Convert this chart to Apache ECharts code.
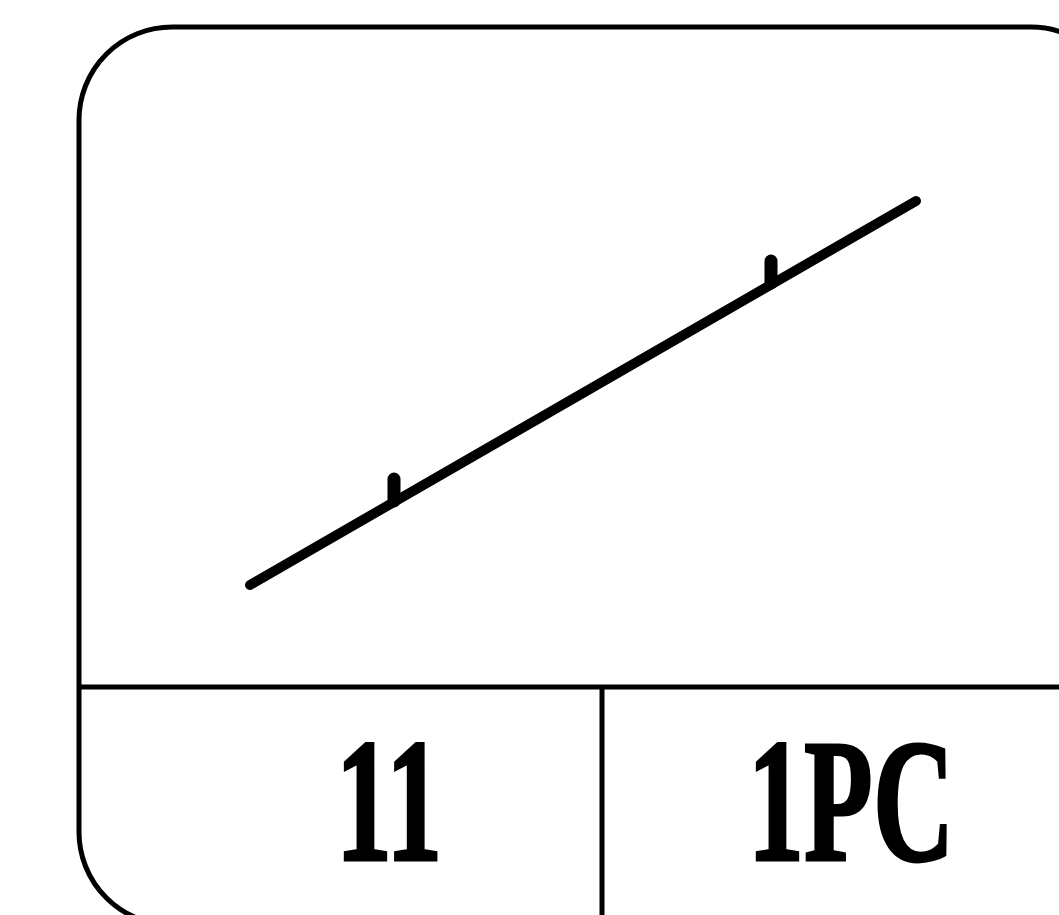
<!DOCTYPE html>
<html>
<head>
<meta charset="utf-8">
<script src="https://cdn.jsdelivr.net/npm/echarts@6/dist/echarts.min.js"></script>
<style>
  html, body { margin: 0; padding: 0; background: #fff; }
  #main { width: 1059px; height: 915px; }
</style>
</head>
<body>
<div id="main"></div>
<script>
// frame: left, top, right, bottom, corner radius (drawing units)
const frameBox = [79, 27, 1124, 925]
const frameRadius = 93
// divider row and column
const dividerY = [687]
const dividerX = [602]
// slanted stroke end points
const strokePoints = [[250, 585], [916, 201]]
// small ticks on the stroke: [x, base y, top y]
const tickMarks = [[394, 501, 479], [771, 283, 261]]
// cell texts and their centres
const cellLabels = ['11', '1PC']
const cellCenters = [[389, 815], [851, 815]]

const chart = echarts.init(document.getElementById('main'))

const option = {
  animation: false,
  backgroundColor: '#fff',
  grid: { left: 0, top: 0, right: 0, bottom: 0 },
  xAxis: { type: 'value', min: 0, max: 1059, show: false },
  yAxis: { type: 'value', min: 0, max: 915, inverse: true, show: false },
  series: [
    {
      // outer frame and dividers
      type: 'custom',
      clip: true,
      data: [[0]],
      renderItem (params, api) {
        const a = api.coord([frameBox[0], frameBox[1]])
        const b = api.coord([frameBox[2], frameBox[3]])
        const lineStyle = { stroke: '#000', lineWidth: 5, fill: null }
        const children = [{
          type: 'rect',
          shape: { x: a[0], y: a[1], width: b[0] - a[0], height: b[1] - a[1], r: frameRadius },
          style: lineStyle
        }]
        dividerY.forEach(y => {
          const p = api.coord([frameBox[0], y])
          const q = api.coord([frameBox[2], y])
          children.push({ type: 'line', shape: { x1: p[0], y1: p[1], x2: q[0], y2: q[1] }, style: lineStyle })
        })
        dividerX.forEach(x => {
          const p = api.coord([x, dividerY[0]])
          const q = api.coord([x, frameBox[3]])
          children.push({ type: 'line', shape: { x1: p[0], y1: p[1], x2: q[0], y2: q[1] }, style: lineStyle })
        })
        return { type: 'group', children }
      }
    },
    {
      type: 'line',
      data: strokePoints,
      symbol: 'none',
      lineStyle: { color: '#000', width: 10, cap: 'round' }
    },
    {
      // short ticks standing on the stroke
      type: 'custom',
      data: tickMarks,
      renderItem (params, api) {
        const p = api.coord([api.value(0), api.value(1)])
        const q = api.coord([api.value(0), api.value(2)])
        return {
          type: 'line',
          shape: { x1: p[0], y1: p[1], x2: q[0], y2: q[1] },
          style: { stroke: '#000', lineWidth: 13, lineCap: 'round' }
        }
      }
    },
    {
      // cell texts
      type: 'custom',
      data: cellCenters.map((c, i) => [c[0], c[1], i]),
      renderItem (params, api) {
        const p = api.coord([api.value(0), api.value(1)])
        return {
          type: 'text',
          x: p[0],
          y: p[1],
          scaleX: 0.64,
          style: {
            text: cellLabels[api.value(2)],
            font: 'bold 176px "Liberation Serif"',
            fill: '#000',
            stroke: '#000',
            lineWidth: 3,
            align: 'center',
            verticalAlign: 'middle'
          }
        }
      }
    }
  ]
}

chart.setOption(option)
</script>
</body>
</html>
